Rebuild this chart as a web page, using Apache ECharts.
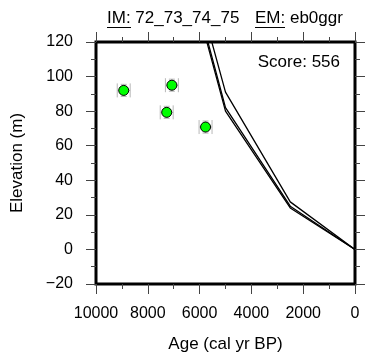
<!DOCTYPE html>
<html>
<head>
<meta charset="utf-8">
<script src="https://cdn.jsdelivr.net/npm/echarts@6/dist/echarts.min.js"></script>
<style>
html,body{margin:0;padding:0;background:#fff;}
#chart{width:365px;height:358px;}
</style>
</head>
<body>
<div id="chart"></div>
<script>
// ---- data ----
const xTicks = [0, 2000, 4000, 6000, 8000, 10000];
const yTicks = [-20, 0, 20, 40, 60, 80, 100, 120];
const lineAges = [0, 2500, 5000, 7500];
const line1 = [0, 27.5, 91, 228];
const line2 = [0, 25, 82, 222];
const line3 = [0, 24, 80, 219];
const ptAges = [8930, 7070, 7270, 5770];
const ptElevs = [92, 95, 79.3, 70.8];
const ptAgeErr = [250, 250, 250, 250];
const ptElevErr = [3.5, 3.5, 3.5, 3.5];
const titleIM = 'IM: 72_73_74_75';
const titleEM = 'EM: eb0ggr';
const scoreText = 'Score: 556';

const FONT = '"Liberation Sans", Arial, Helvetica, sans-serif';
const chart = echarts.init(document.getElementById('chart'), null, {renderer: 'canvas'});

function pairs(xs, ys) { return xs.map((x, i) => [x, ys[i]]); }

const xCommon = {
  type: 'value', min: xTicks[0], max: xTicks[xTicks.length - 1], interval: 2000, inverse: true,
  axisLine: {show: false, onZero: false},
  axisTick: {show: true, inside: false, length: 10, lineStyle: {color: '#444', width: 1}},
  minorTick: {show: true, splitNumber: 2, length: 5, lineStyle: {color: '#444', width: 1}},
  splitLine: {show: false}, minorSplitLine: {show: false}
};
const yCommon = {
  type: 'value', min: yTicks[0], max: yTicks[yTicks.length - 1], interval: 20,
  axisLine: {show: false, onZero: false},
  axisTick: {show: true, inside: false, length: 10, lineStyle: {color: '#444', width: 1}},
  minorTick: {show: true, splitNumber: 2, length: 5, lineStyle: {color: '#444', width: 1}},
  splitLine: {show: false}, minorSplitLine: {show: false}
};

const lineStyle = {color: '#000', width: 1.3};
const option = {
  animation: false,
  backgroundColor: '#fff',
  grid: {left: 96, right: 10, top: 42, bottom: 74, show: true, borderColor: '#000', borderWidth: 3, backgroundColor: 'transparent'},
  xAxis: [
    Object.assign({}, xCommon, {
      position: 'bottom',
      axisLabel: {show: true, fontSize: 16, fontFamily: FONT, color: '#000', margin: 22,
        formatter: v => String(v)},
      name: 'Age (cal yr BP)', nameLocation: 'middle', nameGap: 52,
      nameTextStyle: {fontSize: 17, fontFamily: FONT, color: '#000'}
    }),
    Object.assign({}, xCommon, {position: 'top', axisLabel: {show: false}})
  ],
  yAxis: [
    Object.assign({}, yCommon, {
      position: 'left',
      axisLabel: {show: true, fontSize: 16, fontFamily: FONT, color: '#000', margin: 23,
        formatter: v => (v < 0 ? '\u2212' + Math.abs(v) : String(v))},
      name: 'Elevation (m)', nameLocation: 'middle', nameGap: 70,
      nameTextStyle: {fontSize: 17, fontFamily: FONT, color: '#000'}
    }),
    Object.assign({}, yCommon, {position: 'right', axisLabel: {show: false}})
  ],
  series: [
    {type: 'line', data: pairs(lineAges, line1), symbol: 'none', lineStyle: lineStyle, clip: true, z: 2},
    {type: 'line', data: pairs(lineAges, line2), symbol: 'none', lineStyle: lineStyle, clip: true, z: 2},
    {type: 'line', data: pairs(lineAges, line3), symbol: 'none', lineStyle: lineStyle, clip: true, z: 2},
    {
      type: 'custom', z: 3,
      data: ptAges.map((a, i) => [a, ptElevs[i], ptAgeErr[i], ptElevErr[i]]),
      renderItem: function (params, api) {
        const x = api.value(0), y = api.value(1), ex = api.value(2), ey = api.value(3);
        const l = api.coord([x + ex, y]), r = api.coord([x - ex, y]);
        const t = api.coord([x, y + ey]), b = api.coord([x, y - ey]);
        const cap = 7, cap2 = 3;
        const st = {stroke: '#b8b8b8', lineWidth: 1};
        return {type: 'group', children: [
          {type: 'line', shape: {x1: l[0], y1: l[1], x2: r[0], y2: r[1]}, style: st},
          {type: 'line', shape: {x1: l[0], y1: l[1] - cap, x2: l[0], y2: l[1] + cap}, style: st},
          {type: 'line', shape: {x1: r[0], y1: r[1] - cap, x2: r[0], y2: r[1] + cap}, style: st},
          {type: 'line', shape: {x1: t[0], y1: t[1], x2: b[0], y2: b[1]}, style: st},
          {type: 'line', shape: {x1: t[0] - cap2, y1: t[1], x2: t[0] + cap2, y2: t[1]}, style: st},
          {type: 'line', shape: {x1: b[0] - cap2, y1: b[1], x2: b[0] + cap2, y2: b[1]}, style: st}
        ]};
      }
    },
    {
      type: 'scatter', z: 4, symbol: 'circle', symbolSize: 10,
      data: pairs(ptAges, ptElevs),
      itemStyle: {color: '#00ff00', borderColor: '#000', borderWidth: 1, opacity: 1}
    }
  ],
  graphic: [
    {type: 'text', left: 107, top: 10, style: {text: titleIM, font: '17px ' + FONT, fill: '#000'}},
    {type: 'text', left: 255, top: 10, style: {text: titleEM, font: '17px ' + FONT, fill: '#000'}},
    {type: 'line', shape: {x1: 107, y1: 27.5, x2: 131, y2: 27.5}, style: {stroke: '#000', lineWidth: 1}},
    {type: 'line', shape: {x1: 255, y1: 27.5, x2: 285, y2: 27.5}, style: {stroke: '#000', lineWidth: 1}},
    {type: 'text', right: 25, top: 54, style: {text: scoreText, font: '17px ' + FONT, fill: '#000'}}
  ]
};
chart.setOption(option);
</script>
</body>
</html>
